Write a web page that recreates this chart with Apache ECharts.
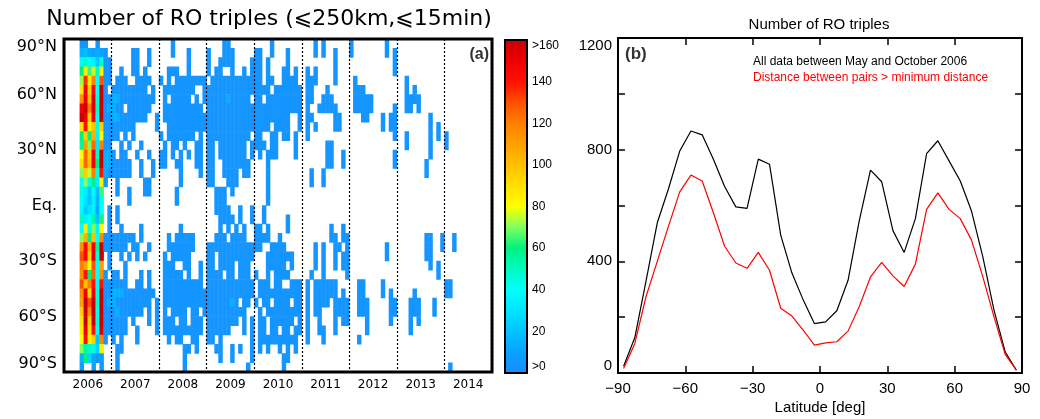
<!DOCTYPE html>
<html>
<head>
<meta charset="utf-8">
<script src="https://cdn.jsdelivr.net/npm/echarts@6/dist/echarts.min.js"></script>
<style>
html, body { margin: 0; padding: 0; background: #fff; }
#main { width: 1040px; height: 419px; }
</style>
</head>
<body>
<div id="main"></div>
<script>
// ---- panel (a): monthly counts per 5 deg latitude bin ----
var years = ['2006', '2007', '2008', '2009', '2010', '2011', '2012', '2013', '2014'];
var latTickLabels = ['90°S', '60°S', '30°S', 'Eq.', '30°N', '60°N', '90°N'];
var colorbarLabels = ['>0', '20', '40', '60', '80', '100', '120', '140', '>160'];

// May..Oct 2006, rows listed from 85-90N down to 85-90S
var may06 = [3, 15, 38, 60, 72, 88, 115, 150, 165, 90, 60, 55, 80, 90, 70, 40, 45, 40, 38, 50, 40, 70, 115, 130, 120, 115, 130, 115, 110, 95, 88, 85, 80, 70, 15, 8];
var jun06 = [4, 18, 50, 85, 135, 148, 150, 160, 150, 140, 95, 110, 125, 125, 95, 70, 35, 30, 22, 35, 85, 105, 145, 145, 110, 140, 100, 150, 160, 165, 175, 150, 140, 55, 60, 0];
var jul06 = [0, 12, 40, 65, 85, 95, 100, 120, 95, 85, 60, 70, 95, 100, 75, 45, 22, 20, 30, 40, 45, 60, 105, 95, 80, 60, 120, 90, 130, 115, 95, 90, 85, 50, 25, 0];
var aug06 = [0, 10, 36, 75, 120, 145, 155, 155, 150, 100, 105, 125, 150, 150, 120, 60, 38, 35, 35, 55, 70, 100, 150, 155, 130, 125, 140, 150, 160, 175, 170, 140, 95, 45, 12, 10];
var sep06 = [3, 12, 22, 50, 40, 40, 45, 50, 40, 45, 35, 30, 50, 60, 45, 35, 18, 15, 12, 20, 35, 40, 55, 45, 40, 40, 38, 45, 48, 42, 45, 40, 20, 25, 5, 0];
var oct06 = [0, 9, 48, 80, 128, 172, 190, 195, 185, 95, 80, 120, 185, 200, 140, 82, 65, 43, 40, 62, 81, 117, 178, 196, 110, 115, 140, 210, 245, 275, 222, 155, 118, 85, 10, 6];

// later months with data (month index from Jan 2006), same row order; '*' = a few more counts
var lowCount = 4, midCount = 14;
var laterCells = [
    '27,40-41,52,63,65,72,81',
    '10,17-18,21,27,31,36,40-42,48-49,52,56,63,65,68,72,81,83',
    '10-11,17-18,21,31,36,39-42,47-49,51,56,68,83',
    '10-11,14,17-18,20,26-28,31,36,38-39,42,45,47-49,51,55-56,58,61,63,68,83',
    '10-11,13-15,18-21,24,26,28-35,37-49,51-52,55-58,61-63,68,73,86',
    '10,12-20,22,25-32,35-51,53-59,61-62,66,73-75,86,88',
    '10-11,12*,13*,14-22,25,27-31,33,35-40,41*,42-46,48-49,51-59,61-62,65-67,73-77,86-89',
    '10,11*,12*,13-14,16-21,25-34,36-59,61,64-68,73-77,83,86-87,89',
    '10-11,12*,13*,14-20,23,25-56,59,61-62,68-69,75-76,80,82-83,92',
    '10-17,23,26-51,53-56,59,61,63,68-69,80,82-83,92,94',
    '10-13,15,17,24,26-32,34,36-46,48-49,52-53,55-56,58,61,83,86,92,94,96',
    '10-11,14,16,19,25,27-28,30,33-34,36-37,39-45,47-50,52-53,58,66-67,86,92,96',
    '10*,11*,12,14-15,18,21,24-25,27,29,31,33-34,36-37,39-45,47,49,51-53,58,66-67,70,83,92',
    '10*,11*,12-16,19,22,24-25,28-29,33-34,36-37,40-46,51,66-67,70,83,91',
    '10*,11-16,19,22,29,34,36-37,40-43,45-46,51,62,65,91',
    '10,13,20-21,29,36-37,41-43,51,62,65',
    '13,16,20-21,28,38-40,42,51',
    '16,28,38-40,51',
    '11,13,38-41,44,47,50',
    '11,13,39-42,44,47,50,56',
    '11,14,19,29,39,41,43,45,48-49,51,56,67,70',
    '10-17,19,26,28-32,38-40,42-45,48-51,54,67-68,70-71,91-92,95,98',
    '10-15,17-18,21,26-32,36-49,52-55,63,65,68-69,71,81,91-92,95,98',
    '11,14,16,18,20,25,27-31,36-37,39-47,51-57,63,65,68,70-71,81,91-92',
    '11,15,25-27,30-31,34,36-37,39-42,44-46,51-55,57,63,65,68,70-71,92,94',
    '10,12-13,15,19,21,25-29,31,34,36-39,41-42,44-46,48,51,53-56,62,65,71,94',
    '10-15,18-19,21,25-34,36-47,49-51,53-54,57-59,61,63-68,74-75,80,96-97',
    '10-11,12*,13*,14*,15-22,25-47,49-59,61,63-68,70,74-75,80,82,88,96-97',
    '10,11*,12*,13-21,23,25-41,42*,43,45-46,48,50-51,53-56,58-59,61,63-66,68-71,74-76,82-83,87-89,93',
    '10-12,13*,14-19,21,23,25,27-30,32-33,35-45,49,51-59,61,63-64,68-71,74-76,82-83,87-89,93',
    '10-15,17,21,23,25-27,29-30,32-34,36-43,45,47,49-50,52-57,59,61,64,68,70-71,76,82,87,89',
    '10-15,18,23,25-34,36-41,45,47,49-50,52-53,55-56,58-59,61,64-65,68,76,87',
    '10,12,14,18,26,28-29,32-33,36-37,39,47,49-58,61,65,74',
    '13-14,30-31,33,38-39,42,44,47,49,51,54,56,58',
    '13,30,39,42,47,55-56',
    '13,30,46,55,97'
];

// ---- panel (b): triples per latitude bin, May-Oct 2006 ----
var latCenters = [-87.5, -82.5, -77.5, -72.5, -67.5, -62.5, -57.5, -52.5, -47.5, -42.5, -37.5, -32.5, -27.5, -22.5, -17.5, -12.5, -7.5, -2.5,
    2.5, 7.5, 12.5, 17.5, 22.5, 27.5, 32.5, 37.5, 42.5, 47.5, 52.5, 57.5, 62.5, 67.5, 72.5, 77.5, 82.5, 87.5];
var allData = [24, 127, 330, 538, 660, 795, 867, 853, 766, 668, 595, 590, 766, 748, 494, 358, 262, 177,
    183, 223, 332, 546, 727, 685, 510, 432, 553, 786, 832, 760, 688, 580, 418, 226, 76, 10];
var beyondMinDist = [16, 106, 274, 400, 526, 649, 709, 688, 574, 454, 394, 375, 432, 368, 232, 204, 154, 100,
    108, 112, 150, 238, 344, 396, 348, 310, 390, 586, 645, 586, 553, 476, 346, 202, 67, 10];

var scaleColors = ['#1a8cff', '#0aa2ff', '#00c4ff', '#00e4ff', '#00ffff', '#00fcc0', '#00f080', '#80ff60', '#ffff00',
    '#ffe000', '#ffc000', '#ffa000', '#ff8000', '#ff5000', '#ff1000', '#f00000', '#c80000'];

var chart = echarts.init(document.getElementById('main'));

var monthCats = [], latCats = [];
years.forEach(function (y) {
    for (var m = 1; m <= 12; m++) monthCats.push(y + '-' + m);
});
for (var i = 0; i < 36; i++) latCats.push(String(-90 + 5 * i));

var parseRuns = function (s) {
    var out = [];
    s.split(',').forEach(function (tok) {
        var mid = tok.indexOf('*') >= 0;
        var ab = tok.replace('*', '').split('-');
        var a = +ab[0], b = ab.length > 1 ? +ab[1] : a;
        for (var m = a; m <= b; m++) out.push([m, mid ? midCount : lowCount]);
    });
    return out;
};

var heatData = [];
var cols2006 = [may06, jun06, jul06, aug06, sep06, oct06];
for (var r = 0; r < 36; r++) {
    var latIdx = 35 - r;
    cols2006.forEach(function (col, k) {
        if (col[r] > 0) heatData.push([4 + k, latIdx, col[r]]);
    });
    parseRuns(laterCells[r]).forEach(function (c) {
        heatData.push([c[0], latIdx, c[1]]);
    });
}

var gradStops = scaleColors.map(function (c, i) {
    return { offset: i / (scaleColors.length - 1), color: c };
});

var leftFont = 'DejaVu Sans';
var rightFont = 'Liberation Sans';

var option = {
    animation: false,
    backgroundColor: '#fff',
    grid: [
        { left: 64, top: 39, width: 428, height: 333, show: true, borderColor: '#000', borderWidth: 3, z: 10 },
        { left: 505, top: 40, width: 22, height: 333, show: true, borderColor: '#000', borderWidth: 2, z: 10 },
        { left: 618, top: 38, width: 404, height: 335, show: false }
    ],
    visualMap: {
        type: 'continuous', show: false, seriesIndex: 0, dimension: 2,
        min: 0, max: 160, inRange: { color: scaleColors }
    },
    xAxis: [
        { gridIndex: 0, type: 'category', data: monthCats, show: false, position: 'top' },
        {
            gridIndex: 0, type: 'category', data: years, position: 'bottom', z: 12,
            axisLine: { show: false }, axisTick: { show: false },
            axisLabel: { fontFamily: leftFont, fontSize: 12, color: '#000', margin: 7 },
            splitLine: { show: true, lineStyle: { color: '#000', width: 1.2, type: [2, 2] } }
        },
        { gridIndex: 1, type: 'category', data: ['bar'], show: false },
        {
            gridIndex: 2, type: 'value', min: -90, max: 90, interval: 30, position: 'bottom',
            axisLine: { onZero: false, lineStyle: { color: '#000', width: 2 } },
            axisTick: { inside: true, length: 7, lineStyle: { color: '#000', width: 1.5 } },
            axisLabel: {
                fontFamily: rightFont, fontSize: 15, color: '#000', margin: 8,
                formatter: function (v) { return v < 0 ? '\u2212' + (-v) : String(v); }
            },
            splitLine: { show: false }
        },
        {
            gridIndex: 2, type: 'value', min: -90, max: 90, interval: 30, position: 'top',
            axisLine: { onZero: false, lineStyle: { color: '#000', width: 2 } },
            axisTick: { inside: true, length: 7, lineStyle: { color: '#000', width: 1.5 } },
            axisLabel: { show: false }, splitLine: { show: false }
        }
    ],
    yAxis: [
        { gridIndex: 0, type: 'category', data: latCats, show: false, position: 'right' },
        {
            gridIndex: 0, type: 'value', min: -90, max: 90, interval: 30, position: 'left',
            axisLine: { show: false }, axisTick: { show: false }, splitLine: { show: false },
            axisLabel: {
                fontFamily: leftFont, fontSize: 16, color: '#000', margin: 7,
                verticalAlignMinLabel: 'bottom', verticalAlignMaxLabel: 'top',
                formatter: function (v) { return latTickLabels[Math.round((v + 90) / 30)]; }
            }
        },
        {
            gridIndex: 0, type: 'value', min: -90, max: 90, interval: 30, position: 'right', z: 12,
            axisLine: { show: false }, splitLine: { show: false }, axisLabel: { show: false },
            axisTick: { inside: true, length: 5, lineStyle: { color: '#000', width: 1.5 } }
        },
        {
            gridIndex: 1, type: 'value', min: 0, max: 160, interval: 20, position: 'right',
            axisLine: { show: false }, axisTick: { show: false }, splitLine: { show: false },
            axisLabel: {
                fontFamily: rightFont, fontSize: 12, color: '#000', margin: 5,
                verticalAlignMinLabel: 'bottom', verticalAlignMaxLabel: 'top',
                formatter: function (v) { return colorbarLabels[Math.round(v / 20)]; }
            }
        },
        {
            gridIndex: 2, type: 'value', min: 0, max: 1200, interval: 200, position: 'left',
            axisLine: { onZero: false, lineStyle: { color: '#000', width: 2 } },
            axisTick: { inside: true, length: 7, lineStyle: { color: '#000', width: 1.5 } },
            splitLine: { show: false },
            axisLabel: {
                fontFamily: rightFont, fontSize: 15, color: '#000', margin: 6,
                verticalAlignMinLabel: 'bottom', verticalAlignMaxLabel: 'top',
                formatter: function (v) { return v % 400 === 0 ? String(v) : ''; }
            }
        },
        {
            gridIndex: 2, type: 'value', min: 0, max: 1200, interval: 200, position: 'right',
            axisLine: { onZero: false, lineStyle: { color: '#000', width: 2 } },
            axisTick: { inside: true, length: 7, lineStyle: { color: '#000', width: 1.5 } },
            splitLine: { show: false }, axisLabel: { show: false }
        }
    ],
    series: [
        {
            name: 'RO triples', type: 'heatmap', xAxisIndex: 0, yAxisIndex: 0,
            data: heatData, progressive: 0, silent: true,
            itemStyle: { borderWidth: 0 }, emphasis: { disabled: true }
        },
        {
            name: 'colorbar', type: 'bar', xAxisIndex: 2, yAxisIndex: 3,
            data: [160], barWidth: '100%', silent: true,
            itemStyle: {
                color: { type: 'linear', x: 0, y: 1, x2: 0, y2: 0, colorStops: gradStops }
            }
        },
        {
            name: 'All data between May and October 2006', type: 'line', xAxisIndex: 3, yAxisIndex: 4,
            data: latCenters.map(function (la, i) { return [la, allData[i]]; }),
            showSymbol: false, symbol: 'none', lineStyle: { color: '#000', width: 1.2 }
        },
        {
            name: 'Distance between pairs > minimum distance', type: 'line', xAxisIndex: 3, yAxisIndex: 4,
            data: latCenters.map(function (la, i) { return [la, beyondMinDist[i]]; }),
            showSymbol: false, symbol: 'none', lineStyle: { color: '#ff0000', width: 1.2 }
        }
    ],
    graphic: [
        {
            type: 'text', x: 269, y: 19, z: 20,
            style: { text: 'Number of RO triples (\u2a7d250km,\u2a7d15min)', font: '22px "DejaVu Sans"', fill: '#000', textAlign: 'center', textVerticalAlign: 'middle' }
        },
        {
            type: 'text', x: 489, y: 55, z: 20,
            style: { text: '(a)', font: 'bold 16px "Liberation Sans"', fill: '#333', textAlign: 'right', textVerticalAlign: 'middle' }
        },
        {
            type: 'text', x: 819, y: 25, z: 20,
            style: { text: 'Number of RO triples', font: '15px "Liberation Sans"', fill: '#000', textAlign: 'center', textVerticalAlign: 'middle' }
        },
        {
            type: 'text', x: 625, y: 54, z: 20,
            style: { text: '(b)', font: 'bold 17px "Liberation Sans"', fill: '#333', textAlign: 'left', textVerticalAlign: 'middle' }
        },
        {
            type: 'text', x: 753, y: 62, z: 20,
            style: { text: 'All data between May and October 2006', font: '12px "Liberation Sans"', fill: '#000', textAlign: 'left', textVerticalAlign: 'middle' }
        },
        {
            type: 'text', x: 753, y: 78, z: 20,
            style: { text: 'Distance between pairs > minimum distance', font: '12px "Liberation Sans"', fill: '#ff0000', textAlign: 'left', textVerticalAlign: 'middle' }
        },
        {
            type: 'text', x: 820, y: 408, z: 20,
            style: { text: 'Latitude [deg]', font: '15px "Liberation Sans"', fill: '#000', textAlign: 'center', textVerticalAlign: 'middle' }
        }
    ]
};

chart.setOption(option);
</script>
</body>
</html>
